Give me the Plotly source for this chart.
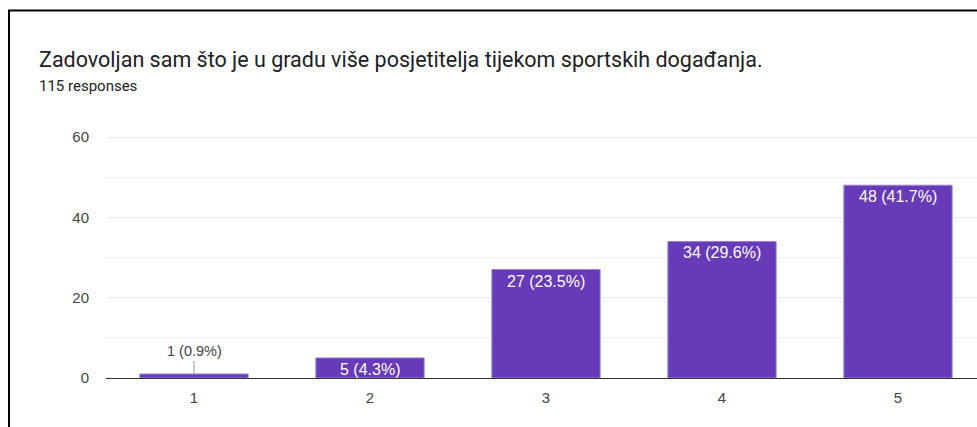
import plotly.graph_objects as go

categories = [1, 2, 3, 4, 5]
counts = [1, 5, 27, 34, 48]
percents = ["0.9%", "4.3%", "23.5%", "29.6%", "41.7%"]
tick_vals = [0, 20, 40, 60]

title_text = "Zadovoljan sam što je u gradu više posjetitelja tijekom sportskih događanja."
subtitle_text = "115 responses"

W, H = 977, 427
L, R, T, B = 106, 0, 135, 49
pw = W - L - R
ph = H - T - B

def px_x(px):
    return (px - L) / pw

def px_y(py):
    return 1 - (py - T) / ph

labels = [f"{c} ({p})" for c, p in zip(counts, percents)]

fig = go.Figure()
fig.add_trace(go.Bar(
    x=categories,
    y=counts,
    width=0.615,
    marker=dict(color="#673ab7", line=dict(color="#9c84d4", width=1)),
    hoverinfo="skip",
))

# value labels: inside (white) for larger bars, outside with leader line for tiny ones
for c, v, lab in zip(categories, counts, labels):
    if v < 5:
        fig.add_annotation(
            x=c, y=v, xref="x", yref="y",
            text=lab, showarrow=True, arrowhead=0, arrowwidth=1,
            arrowcolor="#999999", ax=0, ay=-13,
            yanchor="bottom",
            font=dict(size=14.5, color="#444444", family="Arial"),
        )
    else:
        fig.add_annotation(
            x=c, y=v, xref="x", yref="y",
            text=lab, showarrow=False, yanchor="top", yshift=-1,
            font=dict(size=16, color="white", family="Arial"),
        )

fig.add_annotation(
    x=px_x(37), y=px_y(59), xref="paper", yref="paper",
    text=title_text, showarrow=False, xanchor="left", yanchor="middle",
    font=dict(size=21.5, color="#202124", family="Roboto"),
)
fig.add_annotation(
    x=px_x(37), y=px_y(86), xref="paper", yref="paper",
    text=subtitle_text, showarrow=False, xanchor="left", yanchor="middle",
    font=dict(size=15, color="#202124", family="Roboto"),
)

# frame border (black) at left and top
fig.add_shape(type="line", xref="paper", yref="paper",
              x0=px_x(8), x1=px_x(1000), y0=px_y(10.5), y1=px_y(10.5),
              line=dict(color="black", width=2))
fig.add_shape(type="line", xref="paper", yref="paper",
              x0=px_x(9), x1=px_x(9), y0=px_y(10), y1=px_y(450),
              line=dict(color="black", width=2))

fig.update_layout(
    width=W, height=H,
    margin=dict(l=L, r=R, t=T, b=B, pad=0),
    paper_bgcolor="white", plot_bgcolor="white",
    showlegend=False,
    font=dict(family="Arial", color="#444444", size=15),
)
fig.update_xaxes(
    range=[0.5, 0.5 + (W - L) / 176.0],
    tickvals=categories, ticktext=[str(c) for c in categories],
    showgrid=False, showline=True, linecolor="#333333", linewidth=1,
    ticks="", ticklen=0, zeroline=False, ticklabelstandoff=6,
    tickfont=dict(size=15, color="#444444", family="Arial"),
    fixedrange=True,
)
fig.update_yaxes(
    range=[0, 60.5],
    tickvals=tick_vals,
    showgrid=True, gridcolor="#ebebeb", gridwidth=1,
    minor=dict(dtick=10, showgrid=True, gridcolor="#f3f3f3", gridwidth=1, tick0=0),
    zeroline=False, showline=False,
    ticks="", ticklabelstandoff=16,
    tickfont=dict(size=15, color="#444444", family="Arial"),
    fixedrange=True,
)

fig.write_html(
    "out.html",
    config={"displayModeBar": False},
    post_script="document.body.style.margin='0';document.body.style.overflow='hidden';",
)
